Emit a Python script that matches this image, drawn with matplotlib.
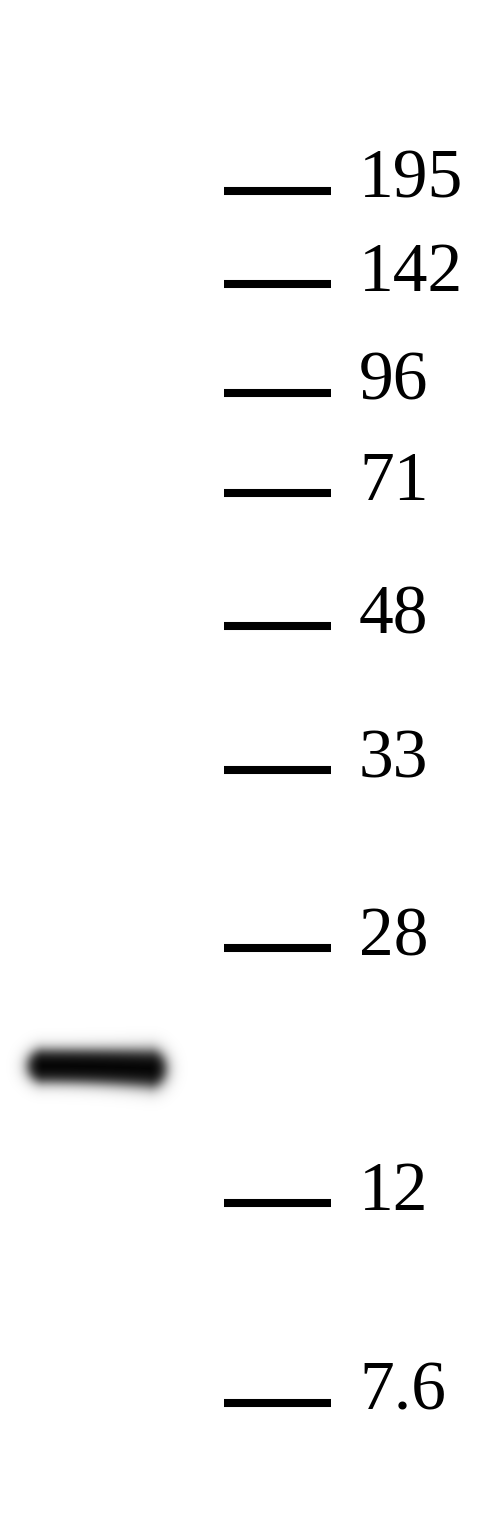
import numpy as np
import matplotlib
matplotlib.use("Agg")
import matplotlib.pyplot as plt

# ---- data ----
marker_labels = ["195", "142", "96", "71", "48", "33", "28", "12", "7.6"]
marker_migration = [191, 284, 393, 493, 626, 770, 948, 1203, 1403]   # migration distance (px from top)
band_migration = 1066          # sample band position
band_lane_span = [44, 150]     # lane extent of the band
band_half_thickness = [16, 18] # left/right half thickness

W, H = 483, 1520
fig = plt.figure(figsize=(W / 100, H / 100), dpi=100)
ax = fig.add_axes([0, 0, 1, 1])
ax.set_xlim(0, W)
ax.set_ylim(H, 0)
ax.axis("off")

# marker ticks and labels
ax.hlines(marker_migration, 224, 331, colors="black", linewidth=5.8, capstyle="butt")
for lab, y in zip(marker_labels, marker_migration):
    ax.text(359, y + 7, lab, fontsize=50, family="Liberation Serif",
            va="baseline", ha="left", color="black")

# sample band rendered as a blurred capsule
x0, x1 = band_lane_span
xs = np.arange(0, 200) + 0.5
ys = np.arange(1000, 1140) + 0.5
X, Y = np.meshgrid(xs, ys)
cx = np.clip(X, x0, x1)
t = (cx - x0) / (x1 - x0)
h = band_half_thickness[0] + (band_half_thickness[1] - band_half_thickness[0]) * t ** 2
yc = band_migration + 2.5 * t ** 2
r = band_half_thickness[0]
d = np.sqrt((X - cx) ** 2 + (Y - yc) ** 2 * (r / h) ** 2) - r
alpha = 1.0 / (1.0 + np.exp(d / 4.0))
rgba = np.zeros(X.shape + (4,))
rgba[..., 3] = alpha
ax.imshow(rgba, extent=(0, 200, 1140, 1000), interpolation="bilinear", zorder=3)
ax.set_xlim(0, W)
ax.set_ylim(H, 0)

fig.savefig("out.png", dpi=100, facecolor="white")
